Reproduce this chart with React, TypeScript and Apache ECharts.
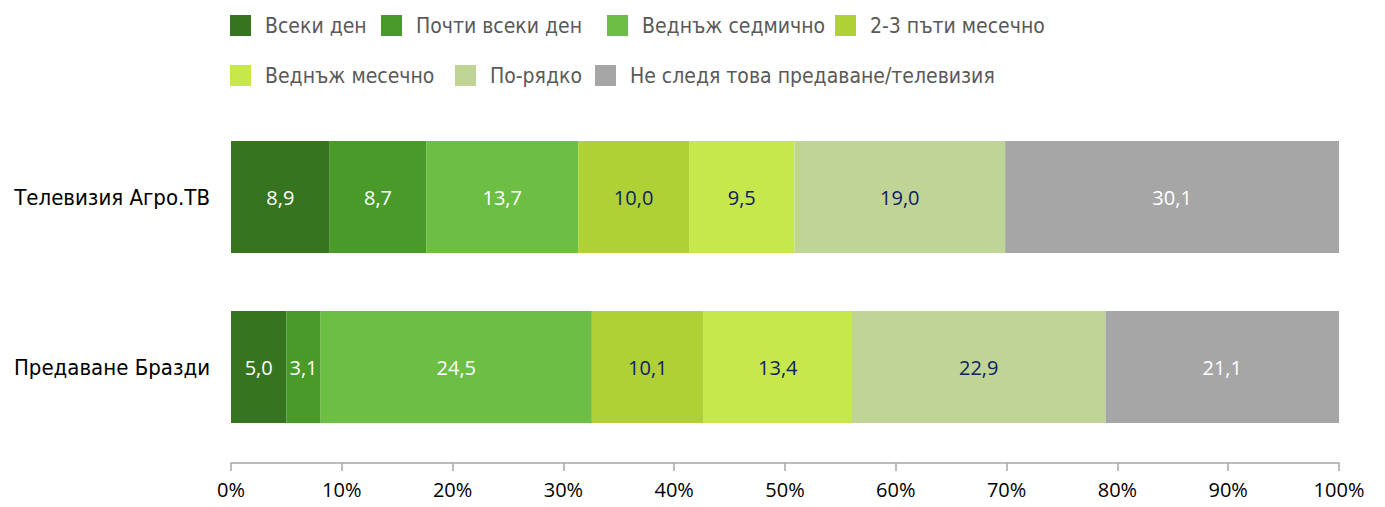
import React, { useEffect, useRef } from "react";
import * as echarts from "echarts";

const categories = ["Телевизия Агро.ТВ", "Предаване Бразди"];
const seriesNames = [
  "Всеки ден",
  "Почти всеки ден",
  "Веднъж седмично",
  "2-3 пъти месечно",
  "Веднъж месечно",
  "По-рядко",
  "Не следя това предаване/телевизия",
];
// values per series: [Телевизия Агро.ТВ, Предаване Бразди]
const everyDay = [8.9, 5.0];
const almostEveryDay = [8.7, 3.1];
const onceWeekly = [13.7, 24.5];
const twoThreeMonthly = [10.0, 10.1];
const onceMonthly = [9.5, 13.4];
const rarely = [19.0, 22.9];
const dontWatch = [30.1, 21.1];
const xTicks = [0, 10, 20, 30, 40, 50, 60, 70, 80, 90, 100];

const seriesValues = [everyDay, almostEveryDay, onceWeekly, twoThreeMonthly, onceMonthly, rarely, dontWatch];
const colors = ["#37741F", "#4A9A29", "#6DBE45", "#AFD136", "#C6E84B", "#C0D495", "#A6A6A6"];
const labelColors = ["#FFFFFF", "#FFFFFF", "#FFFFFF", "#0F2160", "#0F2160", "#0F2160", "#FFFFFF"];
const legendPos = [
  [230, 15],
  [381, 15],
  [607, 15],
  [835, 15],
  [230, 65],
  [455, 65],
  [595, 65],
];

const condensed = '"DejaVu Sans Condensed", "Roboto", sans-serif';
const labelFont = '"Open Sans", "Noto Sans", sans-serif';

export default function App() {
  const ref = useRef<HTMLDivElement>(null);
  useEffect(() => {
    if (!ref.current) return;
    const chart = echarts.init(ref.current, undefined, { renderer: "svg" });
    const totals = categories.map((_, ci) => seriesValues.reduce((s, arr) => s + arr[ci], 0));
    const option: any = {
      animation: false,
      grid: { left: 231, right: 46, top: 112, height: 340, containLabel: false },
      legend: seriesNames.map((name, i) => ({
        data: [name],
        left: legendPos[i][0],
        top: legendPos[i][1],
        padding: 0,
        itemWidth: 21,
        itemHeight: 21,
        icon: "rect",
        selectedMode: false,
        textStyle: {
          fontFamily: condensed,
          fontSize: 21,
          color: "#595959",
          padding: [0, 0, 0, 9],
        },
      })),
      xAxis: {
        type: "value",
        min: 0,
        max: 100,
        interval: 10,
        offset: 11,
        axisLine: { show: true, lineStyle: { color: "#A6A6A6", width: 1.5 } },
        axisTick: { show: true, length: 8, lineStyle: { color: "#A6A6A6", width: 1.5 } },
        splitLine: { show: false },
        axisLabel: {
          margin: 16,
          fontFamily: labelFont,
          fontSize: 20,
          color: "#000000",
          formatter: (v: number) => (xTicks.includes(v) ? v + "%" : ""),
        },
      },
      yAxis: {
        type: "category",
        data: categories,
        inverse: true,
        axisLine: { show: false },
        axisTick: { show: false },
        axisLabel: {
          margin: 21,
          fontFamily: condensed,
          fontSize: 22,
          color: "#000000",
        },
      },
      series: seriesNames.map((name, i) => ({
        name,
        type: "bar",
        stack: "total",
        barWidth: 112,
        itemStyle: { color: colors[i] },
        data: seriesValues[i].map((v, ci) => ({ value: (v / totals[ci]) * 100, raw: v })),
        label: {
          show: true,
          position: "inside",
          fontFamily: labelFont,
          fontSize: 20,
          color: labelColors[i],
          formatter: (p: any) => p.data.raw.toFixed(1).replace(".", ","),
        },
      })),
    };
    chart.setOption(option);
    return () => chart.dispose();
  }, []);
  return <div ref={ref} style={{ width: 1385, height: 507, margin: -8 }} />;
}
